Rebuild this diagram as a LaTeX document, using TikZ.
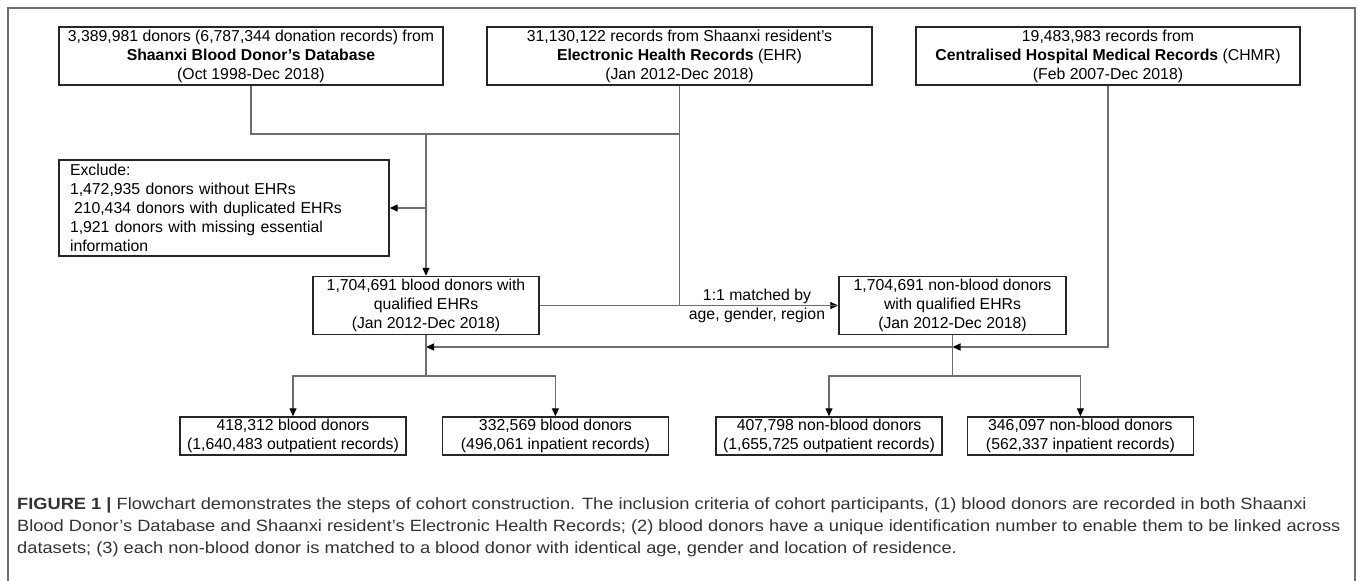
\documentclass[tikz,border=0pt]{standalone}
\usepackage{fontspec}
\setmainfont{Liberation Sans}
\usepackage{xcolor}
\usetikzlibrary{positioning, arrows.meta, calc}

\definecolor{linegray}{HTML}{6E6E6E}
\definecolor{boxline}{HTML}{262626}
\definecolor{captext}{HTML}{333333}

\begin{document}
\begin{tikzpicture}[
		x=1pt, y=-1pt,
		>={Triangle[length=8pt,width=7pt,color=black]},
		every node/.style={font=\fontsize{15.8}{19}\selectfont},
		box/.style={draw=boxline, line width=1.4pt, align=center, inner sep=0pt, minimum height=58pt},
		smallbox/.style={box, minimum height=38pt, minimum width=226pt},
		conn/.style={draw=linegray, line width=1.3pt},
		caption/.style={anchor=base west, inner sep=0pt, text=captext, font=\fontsize{16.3}{20}\selectfont}
		]
		
		% ==========================================
		% CANVAS AND FRAME
		% ==========================================
		\useasboundingbox (0,0) rectangle (1358,581);
		\draw[linegray, line width=1.5pt] (8,581) -- (8,8) -- (1355,8) -- (1355,581);
		
		% ==========================================
		% DATA SOURCES
		% ==========================================
		\node[box, minimum width=384pt] (db) at (251,56) {
			3,389,981 donors (6,787,344 donation records) from\\
			\textbf{Shaanxi Blood Donor’s Database}\\
			(Oct 1998-Dec 2018)
		};
		\node[box, minimum width=385pt] (ehr) at (679.5,56) {
			31,130,122 records from Shaanxi resident’s\\
			\textbf{Electronic Health Records} (EHR)\\
			(Jan 2012-Dec 2018)
		};
		\node[box, minimum width=384pt] (chmr) at (1108,56) {
			19,483,983 records from\\
			\textbf{Centralised Hospital Medical Records} (CHMR)\\
			(Feb 2007-Dec 2018)
		};
		
		% Exclusions
		\node[box, align=left, text width=308pt, inner xsep=11pt, minimum height=96pt] (excl) at (224,208) {
			Exclude:\\
			1,472,935 donors without EHRs\\
			\hspace*{4pt}210,434 donors with duplicated EHRs\\
			1,921 donors with missing essential\\
			information
		};
		
		% ==========================================
		% COHORTS
		% ==========================================
		\node[box, minimum width=226pt] (blood) at (426,305.5) {
			1,704,691 blood donors with\\
			qualified EHRs\\
			(Jan 2012-Dec 2018)
		};
		\node[box, minimum width=227pt] (nonblood) at (952.5,305.5) {
			1,704,691 non-blood donors\\
			with qualified EHRs\\
			(Jan 2012-Dec 2018)
		};
		
		% Outcomes
		\node[smallbox] (outA) at (293,436) {418,312 blood donors\\(1,640,483 outpatient records)};
		\node[smallbox, right=35pt of outA] (inA) {332,569 blood donors\\(496,061 inpatient records)};
		\node[smallbox] (outB) at (829,436) {407,798 non-blood donors\\(1,655,725 outpatient records)};
		\node[smallbox, right=24pt of outB] (inB) {346,097 non-blood donors\\(562,337 inpatient records)};
		
		% ==========================================
		% CONNECTORS
		% ==========================================
		\coordinate (jtop) at (426,134);
		\coordinate (jmid) at (0,347);
		\coordinate (jbot) at (0,376);
		
		\draw[conn] (db.south) |- (jtop -| ehr.south);
		\draw[conn,->] (jtop) -- (blood.north);
		\draw[conn,->] (jtop |- excl.east) -- (excl.east);
		\draw[conn,->] (ehr.south) |- (nonblood.west);
		\draw[conn] (blood.east) -- (nonblood.west);
		\node[align=center] (match) at (757,305.5) {1:1 matched by\\age, gender, region};
		
		\draw[conn,->] (chmr.south) |- (nonblood.south |- jmid);
		\draw[conn,->] (nonblood.south |- jmid) -- (blood.south |- jmid);
		
		\draw[conn] (blood.south) -- (blood.south |- jbot);
		\draw[conn,->] (blood.south |- jbot) -| (outA.north);
		\draw[conn,->] (blood.south |- jbot) -| (inA.north);
		\draw[conn] (nonblood.south) -- (nonblood.south |- jbot);
		\draw[conn,->] (nonblood.south |- jbot) -| (outB.north);
		\draw[conn,->] (nonblood.south |- jbot) -| (inB.north);
		
		% ==========================================
		% CAPTION
		% ==========================================
		\node[caption] (cap1) at (17,509) {\scalebox{1.12}[1]{\textbf{FIGURE 1 |} Flowchart demonstrates the steps of cohort construction. The inclusion criteria of cohort participants, (1) blood donors are recorded in both Shaanxi}};
		\node[caption] (cap2) at (17,531) {\scalebox{1.12}[1]{Blood Donor’s Database and Shaanxi resident’s Electronic Health Records; (2) blood donors have a unique identification number to enable them to be linked across}};
		\node[caption] (cap3) at (17,553) {\scalebox{1.12}[1]{datasets; (3) each non-blood donor is matched to a blood donor with identical age, gender and location of residence.}};
		
	\end{tikzpicture}
\end{document}
